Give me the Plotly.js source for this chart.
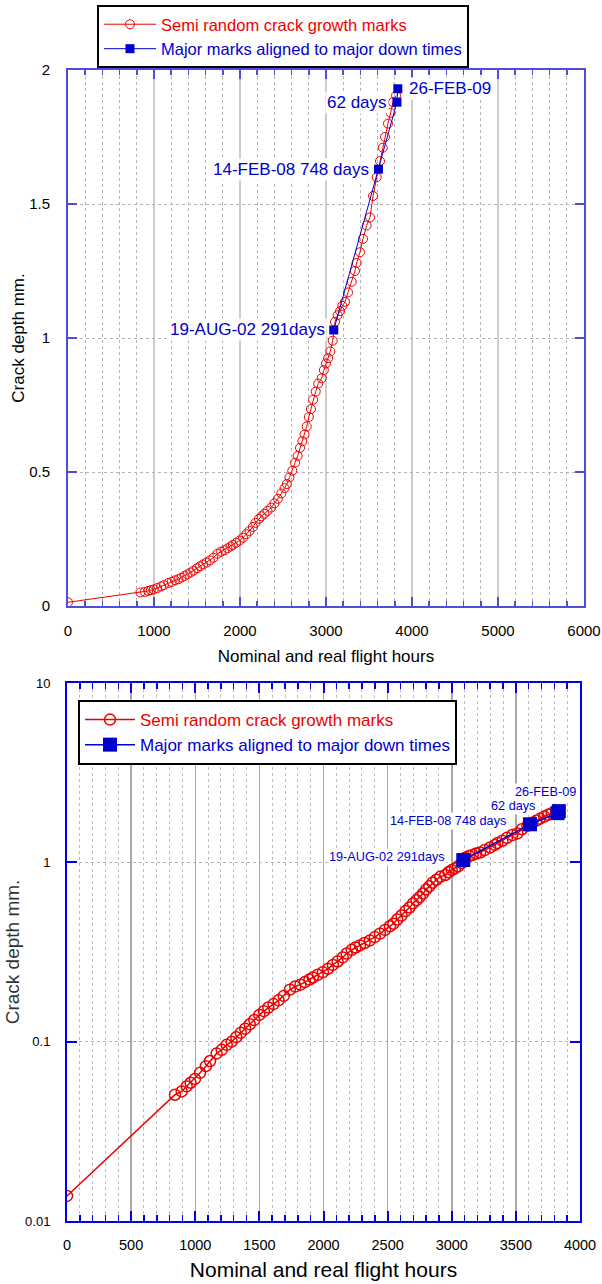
<!DOCTYPE html>
<html><head><meta charset="utf-8">
<script src="https://cdn.plot.ly/plotly-3.0.1.min.js"></script>
<style>html,body{margin:0;padding:0;background:#fff}</style>
</head><body><div id="chart" style="width:602px;height:1284px"></div>
<script>
// Semi random crack growth marks (hours, depth mm)
const hours = [0, 842, 894, 933, 964, 998, 1037, 1083, 1115, 1167, 1206, 1245, 1284, 1320, 1355, 1390, 1425, 1460, 1500, 1535, 1570, 1610, 1650, 1690, 1738, 1780, 1820, 1855, 1890, 1917, 1955, 1995, 2035, 2073, 2110, 2150, 2180, 2220, 2250, 2284, 2320, 2362, 2400, 2440, 2480, 2518, 2545, 2575, 2608, 2640, 2670, 2698, 2725, 2750, 2776, 2800, 2825, 2850, 2880, 2910, 2950, 2975, 3000, 3025, 3050, 3078, 3105, 3135, 3163, 3190, 3221, 3256, 3299, 3337, 3356, 3395, 3430, 3473, 3512, 3547, 3590, 3628, 3660, 3686, 3721, 3752, 3779, 3815];
const depth = [0.0138, 0.0506, 0.0528, 0.0563, 0.059, 0.062, 0.067, 0.073, 0.078, 0.086, 0.090, 0.096, 0.100, 0.106, 0.112, 0.118, 0.125, 0.132, 0.141, 0.148, 0.155, 0.162, 0.170, 0.180, 0.195, 0.203, 0.208, 0.215, 0.222, 0.228, 0.236, 0.244, 0.255, 0.268, 0.280, 0.295, 0.310, 0.325, 0.335, 0.344, 0.355, 0.367, 0.383, 0.400, 0.420, 0.440, 0.455, 0.480, 0.505, 0.535, 0.560, 0.590, 0.615, 0.640, 0.670, 0.705, 0.735, 0.770, 0.800, 0.830, 0.850, 0.880, 0.905, 0.925, 0.950, 0.990, 1.060, 1.085, 1.100, 1.120, 1.135, 1.170, 1.210, 1.250, 1.280, 1.320, 1.370, 1.420, 1.450, 1.530, 1.600, 1.660, 1.710, 1.750, 1.800, 1.840, 1.880, 1.905];
// Major marks aligned to major down times
const majorHours = [3090, 3610, 3825, 3835];
const majorDepth = [1.03, 1.63, 1.88, 1.93];
const majorLabels = ['19-AUG-02 291days', '14-FEB-08 748 days', '62 days', '26-FEB-09'];
const seriesNames = ['Semi random crack growth marks', 'Major marks aligned to major down times'];
const xTitle = 'Nominal and real flight hours';
const yTitle = 'Crack depth mm.';
const logTickVals = [0.01, 0.1, 1, 10];
const logTickText = ['0.01', '0.1', '1', '10'];

const FONT = 'Liberation Sans, Arial, sans-serif';
const RED = '#ee0000', BLUE = '#0000cc';
const W = 602, H = 1284;
const px = v => v / W, py = v => 1 - v / H;

const traces = [
  {x: hours, y: depth, xaxis: 'x', yaxis: 'y', legend: 'legend', mode: 'lines+markers',
   name: '<span style="color:' + RED + '">' + seriesNames[0] + '</span>',
   line: {color: RED, width: 1}, marker: {symbol: 'circle-open', size: 9, color: RED, line: {width: 1, color: RED}}},
  {x: majorHours, y: majorDepth, xaxis: 'x', yaxis: 'y', legend: 'legend', mode: 'lines+markers',
   name: '<span style="color:' + BLUE + '">' + seriesNames[1] + '</span>',
   line: {color: BLUE, width: 1}, marker: {symbol: 'square', size: 9, color: BLUE}},
  {x: hours, y: depth, xaxis: 'x2', yaxis: 'y2', legend: 'legend2', mode: 'lines+markers',
   name: '<span style="color:' + RED + '">' + seriesNames[0] + '</span>',
   line: {color: RED, width: 1.5}, marker: {symbol: 'circle-open', size: 11, color: RED, line: {width: 1.5, color: RED}}},
  {x: majorHours, y: majorDepth, xaxis: 'x2', yaxis: 'y2', legend: 'legend2', mode: 'lines+markers',
   name: '<span style="color:' + BLUE + '">' + seriesNames[1] + '</span>',
   line: {color: BLUE, width: 1.5}, marker: {symbol: 'square', size: 14, color: BLUE}}
];

const topLine = '#4e4edc', botLine = '#0000e6';
const annTop = {xref: 'x', yref: 'y', showarrow: false, bgcolor: '#fff', font: {family: FONT, size: 17, color: BLUE}};
const annBot = {xref: 'x2', yref: 'y2', showarrow: false, bgcolor: '#fff', font: {family: FONT, size: 12.7, color: BLUE}};
const topShift = [[-7, 0, 'right'], [-7, 0, 'right'], [-8, 0, 'right'], [9, 0, 'left']];
const botShift = [[-16, 3, 'right'], [-22, 3, 'right'], [-21, 7, 'right'], [-13, 19, 'center']];
const annotations = [];
majorLabels.forEach((t, i) => {
  annotations.push(Object.assign({}, annTop, {text: t, x: majorHours[i], y: majorDepth[i],
    xanchor: topShift[i][2], xshift: topShift[i][0], yshift: topShift[i][1]}));
});
[2, 0, 1, 3].forEach(i => {
  annotations.push(Object.assign({}, annBot, {text: majorLabels[i], x: majorHours[i], y: Math.log10(majorDepth[i]),
    xanchor: botShift[i][2], xshift: botShift[i][0], yshift: botShift[i][1]}));
});

const layout = {
  width: W, height: H, margin: {l: 0, r: 0, t: 0, b: 0}, paper_bgcolor: '#fff', plot_bgcolor: '#fff',
  font: {family: FONT, color: '#000'},
  xaxis: {domain: [px(68), px(584)], anchor: 'y', range: [0, 6000], tick0: 0, dtick: 1000,
    ticks: 'inside', ticklen: 9, tickwidth: 2, tickcolor: topLine, showline: true, linecolor: topLine, linewidth: 2,
    mirror: 'ticks', showgrid: true, gridcolor: '#cccccc', gridwidth: 2, zeroline: false,
    minor: {dtick: 200, ticks: 'inside', ticklen: 5, tickwidth: 1.5, tickcolor: topLine, showgrid: true, gridcolor: '#b4b4b4', griddash: 'dot', gridwidth: 1},
    tickfont: {family: FONT, size: 15}, ticklabelstandoff: 10,
    title: {text: xTitle, font: {family: FONT, size: 17}, standoff: 12}},
  yaxis: {domain: [py(606), py(70)], anchor: 'x', range: [0, 2], tick0: 0, dtick: 0.5,
    ticks: 'inside', ticklen: 9, tickwidth: 2, tickcolor: topLine, showline: true, linecolor: topLine, linewidth: 2,
    mirror: 'ticks', showgrid: true, gridcolor: '#b4b4b4', griddash: '3px,3px', gridwidth: 1, zeroline: false,
    tickfont: {family: FONT, size: 15}, ticklabelstandoff: 13,
    title: {text: yTitle, font: {family: FONT, size: 17}, standoff: 0}},
  xaxis2: {domain: [px(67), px(580)], anchor: 'y2', range: [0, 4000], tick0: 0, dtick: 500,
    ticks: 'inside', ticklen: 10, tickwidth: 2, tickcolor: botLine, showline: true, linecolor: botLine, linewidth: 2,
    mirror: 'ticks', showgrid: true, gridcolor: '#a8a8a8', gridwidth: 1.5, zeroline: false,
    minor: {dtick: 100, ticks: 'inside', ticklen: 6, tickwidth: 1.5, tickcolor: botLine, showgrid: true, gridcolor: '#bcbcbc', griddash: 'dot', gridwidth: 1},
    tickfont: {family: FONT, size: 14.5}, ticklabelstandoff: 10,
    title: {text: xTitle, font: {family: FONT, size: 21}, standoff: 10}},
  yaxis2: {domain: [py(1221), py(683)], anchor: 'x2', type: 'log', range: [-2, 1],
    tickvals: logTickVals, ticktext: logTickText,
    ticks: 'inside', ticklen: 10, tickwidth: 2, tickcolor: botLine, showline: true, linecolor: botLine, linewidth: 2,
    mirror: 'ticks', showgrid: true, gridcolor: '#b4b4b4', griddash: 'dot', gridwidth: 1, zeroline: false,
    tickfont: {family: FONT, size: 13}, ticklabelstandoff: 12,
    title: {text: yTitle, font: {family: FONT, size: 19, color: '#333'}, standoff: 0}},
  legend: {x: px(97), y: py(5), xanchor: 'left', yanchor: 'top', bgcolor: '#fff', bordercolor: '#000', borderwidth: 2,
    font: {family: FONT, size: 16.5}, itemwidth: 52, tracegroupgap: 0},
  legend2: {x: px(78), y: py(700), xanchor: 'left', yanchor: 'top', bgcolor: '#fff', bordercolor: '#000', borderwidth: 2,
    font: {family: FONT, size: 17}, itemwidth: 50, tracegroupgap: 0},
  showlegend: true,
  annotations: annotations
};

Plotly.newPlot('chart', traces, layout, {staticPlot: true, displayModeBar: false});
</script>
</body></html>
